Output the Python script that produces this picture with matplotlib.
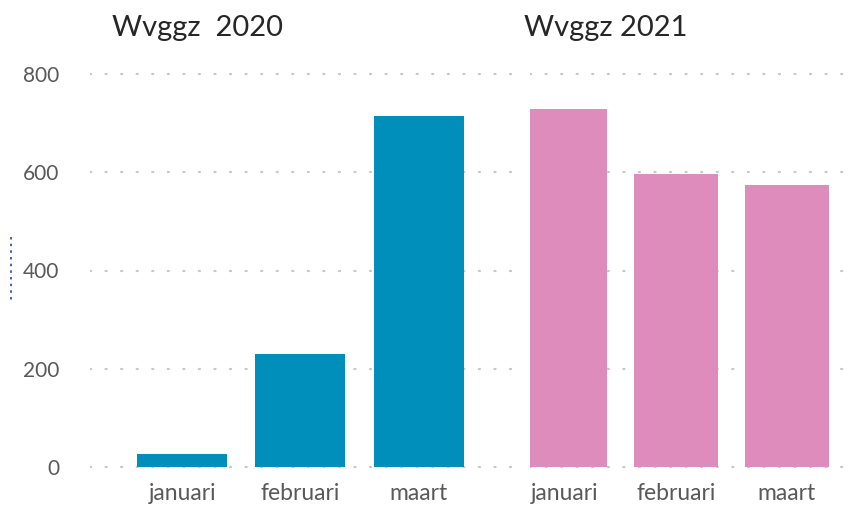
import matplotlib
matplotlib.use('Agg')
import matplotlib.pyplot as plt
from matplotlib.lines import Line2D

months = ['januari', 'februari', 'maart']
values_2020 = [26, 230, 715]
values_2021 = [729, 597, 574]
titles = ['Wvggz  2020', 'Wvggz 2021']
yticks = [0, 200, 400, 600, 800]

BLUE = '#008fba'
PINK = '#de8cbb'
GRID = '#c8c8c8'
TICK = '#595959'
FONT = ['Lato', 'DejaVu Sans']

W, H = 856, 507
fig = plt.figure(figsize=(W / 100, H / 100), dpi=100)

# y: 0 -> px 467, 800 -> px 74
px_per = (467 - 74) / 800
y_lo, y_hi = -12, 812
bot = 467 + (-y_lo) * px_per
top = 74 - (y_hi - 800) * px_per


def px_axes(x0, x1):
    return fig.add_axes([x0 / W, 1 - bot / H, (x1 - x0) / W, (bot - top) / H])


ax1 = px_axes(90, 512)
ax2 = px_axes(530, 852)
ax1.set_xlim(-0.78, 2.79)
ax2.set_xlim(-0.313, 2.587)

for ax, vals, col in [(ax1, values_2020, BLUE), (ax2, values_2021, PINK)]:
    ax.set_ylim(y_lo, y_hi)
    for yv in yticks:
        ax.axhline(yv, color=GRID, lw=1.6, ls=(0, (0.5, 6.5)), zorder=0,
                   dash_capstyle='round')
    ax.bar(range(len(months)), vals, width=0.76, color=col, zorder=2)
    ax.set_xticks(range(len(months)))
    ax.set_xticklabels(months, fontsize=16.5, color=TICK, family=FONT)
    ax.tick_params(axis='x', length=0, pad=7)
    for s in ax.spines.values():
        s.set_visible(False)

ax1.set_yticks(yticks)
ax1.set_yticklabels([str(v) for v in yticks], fontsize=15, color=TICK, family=FONT)
ax1.tick_params(axis='y', length=0, pad=22)
ax2.set_yticks([])

fig.text(112 / W, 1 - 28 / H, titles[0], fontsize=21, color='#262626',
         family=FONT, va='center', ha='left')
fig.text(524 / W, 1 - 28 / H, titles[1], fontsize=21, color='#262626',
         family=FONT, va='center', ha='left')

# small dotted blue artifact at left edge
fig.add_artist(Line2D([11 / W, 11 / W], [1 - 237 / H, 1 - 300 / H],
                      color='#3040b0', lw=1.2, ls=(0, (1.5, 2.5))))

fig.savefig('out.png', dpi=100, facecolor='white')
